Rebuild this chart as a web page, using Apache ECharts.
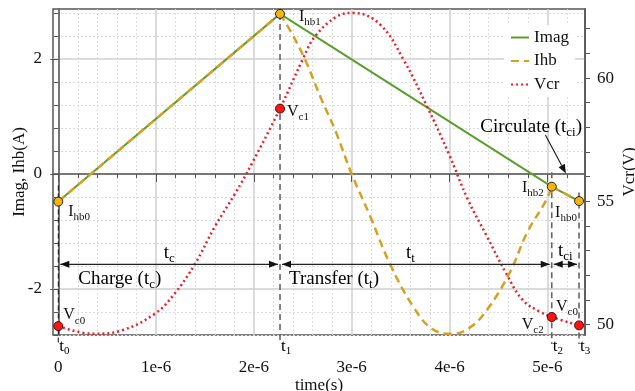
<!DOCTYPE html>
<html>
<head>
<meta charset="utf-8">
<script src="https://cdn.jsdelivr.net/npm/echarts@6/dist/echarts.min.js"></script>
<style>
  html, body { margin: 0; padding: 0; background: #fff; }
  #chart { width: 635px; height: 391px; }
</style>
</head>
<body>
<div id="chart"></div>
<script>
// time values are in microseconds, the axis prints them as "Ne-6"
const imagData = [[0, -0.48], [2.267, 2.785], [5.045, -0.22], [5.324, -0.47]];
const ihbCharge = [[0, -0.48], [2.267, 2.785]];
const ihbTransfer = [
  [2.267, 2.785], [2.386, 2.45], [2.523, 1.99], [2.693, 1.29], [2.829, 0.77],
  [3.0, 0.0], [3.19, -0.74], [3.39, -1.56], [3.63, -2.31], [3.82, -2.69],
  [4.02, -2.78], [4.2, -2.68], [4.38, -2.37], [4.62, -1.7], [4.79, -1.03],
  [4.99, -0.45], [5.045, -0.22]
];
const ihbCirculate = [[5.045, -0.22], [5.324, -0.47]];
const vcrData = [
  [0, 49.94], [0.36, 49.63], [0.65, 49.77], [0.99, 50.45], [1.19, 51.26],
  [1.4, 52.48], [1.6, 53.97], [1.81, 55.33], [1.98, 56.54], [2.267, 58.76],
  [2.505, 60.81], [2.625, 61.69], [2.85, 62.5], [3.02, 62.64], [3.29, 62.17],
  [3.53, 60.74], [3.77, 58.85], [3.99, 56.95], [4.19, 55.05], [4.38, 53.6],
  [4.58, 52.07], [4.75, 50.99], [4.93, 50.51], [5.045, 50.31], [5.324, 49.97]
];
const ihbPoints = [[0, -0.48], [2.267, 2.785], [5.045, -0.22], [5.324, -0.47]];
const ihbPointNames = ['hb0', 'hb1', 'hb2', 'hb0'];
const vcPoints = [[0, 49.94], [2.267, 58.76], [5.045, 50.31], [5.324, 49.97]];
const vcPointNames = ['c0', 'c1', 'c2', 'c0'];
const phaseTimes = [0, 2.267, 5.045, 5.324];
const phaseNames = ['0', '1', '2', '3'];

const xMajorTicks = [0, 1, 2, 3, 4, 5];
const xMinorTicks = [0.2, 0.4, 0.6, 0.8, 1.2, 1.4, 1.6, 1.8, 2.2, 2.4, 2.6, 2.8,
  3.2, 3.4, 3.6, 3.8, 4.2, 4.4, 4.6, 4.8, 5.2];
const yMajorTicks = [-2, 0, 2];
const yMinorTicks = [-2.8, -2.4, -1.6, -1.2, -0.8, -0.4, 0.4, 0.8, 1.2, 1.6, 2.4, 2.8];
const vTicks = [50, 51, 52, 53, 54, 55, 56, 57, 58, 59, 60, 61, 62];
const vLabels = [50, 55, 60];

const FONT = 'Liberation Serif';
const C_IMAG = '#5c9e2e';
const C_IHB = '#d6a021';
const C_VCR = '#e8202a';
const AXIS_COLOR = '#555';

const X_MIN = -0.054, X_MAX = 5.385;
const Y_MIN = -2.8, Y_MAX = 2.87;
const V_MIN = 49.58, V_MAX = 62.8;

const chart = echarts.init(document.getElementById('chart'));

const richPt = {
  m: { fontSize: 16, fontFamily: FONT, color: '#111', verticalAlign: 'middle', lineHeight: 22 },
  s: { fontSize: 11, fontFamily: FONT, color: '#111', verticalAlign: 'bottom', lineHeight: 14 }
};
const richAnno = {
  m: { fontSize: 19, fontFamily: FONT, color: '#111', verticalAlign: 'middle', lineHeight: 24 },
  s: { fontSize: 13, fontFamily: FONT, color: '#111', verticalAlign: 'bottom', lineHeight: 15 }
};

// label placement of the marked points
const ihbLabelCfg = [
  { position: 'right', distance: 5, offset: [0, 10] },
  { position: 'right', distance: 14, offset: [0, 3] },
  { position: 'left', distance: 3, offset: [0, 1] },
  { position: 'bottom', distance: 0, offset: [-13, -4] }
];
const vcLabelCfg = [
  { position: 'right', distance: 0, offset: [0, -11] },
  { position: 'right', distance: 2, offset: [0, 3] },
  { position: 'left', distance: 3, offset: [0, 8] },
  { position: 'top', distance: 0, offset: [-12, -3] }
];

const minorSplit = { show: true, lineStyle: { color: '#dcdcdc', type: [2, 2], width: 1 } };
const majorSplit = { show: true, lineStyle: { color: '#cfcfcf', width: 1.5 } };
const nameStyle = { fontFamily: FONT, fontSize: 17, color: '#111' };

const option = {
  animation: false,
  textStyle: { fontFamily: FONT, color: '#111' },
  grid: {
    left: 53, right: 50, top: 9, bottom: 56,
    outerBoundsMode: 'none', containLabel: false,
    show: true, borderColor: AXIS_COLOR, borderWidth: 1.5
  },
  legend: {
    data: ['Imag', 'Ihb', 'Vcr'],
    orient: 'vertical',
    left: 504, top: 25,
    padding: [4, 6],
    backgroundColor: '#fff',
    itemWidth: 18, itemHeight: 14, itemGap: 6.5,
    itemStyle: { opacity: 0 },
    textStyle: { fontFamily: FONT, fontSize: 17, color: '#111' }
  },
  xAxis: [
    {
      type: 'value', min: X_MIN, max: X_MAX, splitNumber: 5,
      name: 'time(s)', nameLocation: 'middle', nameGap: 42, nameMoveOverlap: false,
      nameTextStyle: nameStyle,
      axisLine: { show: true, lineStyle: { color: AXIS_COLOR, width: 1.5 } },
      axisTick: { show: true, customValues: xMajorTicks, length: 8, lineStyle: { color: AXIS_COLOR } },
      axisLabel: {
        customValues: xMajorTicks, margin: 24, fontSize: 17, color: '#111',
        formatter: (v) => (v === 0 ? '0' : v + 'e-6')
      },
      splitLine: majorSplit
    },
    {
      type: 'value', min: X_MIN, max: X_MAX, position: 'bottom', splitNumber: 27,
      axisLine: { show: false },
      axisTick: { show: true, customValues: xMinorTicks, length: 4, lineStyle: { color: AXIS_COLOR } },
      axisLabel: { show: false },
      splitLine: minorSplit
    }
  ],
  yAxis: [
    {
      type: 'value', min: Y_MIN, max: Y_MAX, position: 'left', splitNumber: 3,
      name: 'Imag, Ihb(A)', nameLocation: 'middle', nameGap: 25, nameMoveOverlap: false,
      nameTextStyle: nameStyle,
      axisLine: { show: true, lineStyle: { color: AXIS_COLOR, width: 1.5 } },
      axisTick: { show: true, customValues: yMajorTicks, length: 8, lineStyle: { color: AXIS_COLOR } },
      axisLabel: { customValues: yMajorTicks, margin: 11, fontSize: 17, color: '#111' },
      splitLine: majorSplit
    },
    {
      type: 'value', min: Y_MIN, max: Y_MAX, position: 'left', interval: 0.4,
      axisLine: { show: false },
      axisTick: { show: true, customValues: yMinorTicks, length: 5, lineStyle: { color: AXIS_COLOR } },
      axisLabel: { show: false },
      splitLine: minorSplit
    },
    {
      type: 'value', min: V_MIN, max: V_MAX, position: 'right',
      name: 'Vcr(V)', nameLocation: 'middle', nameGap: 36, nameMoveOverlap: false,
      nameTextStyle: nameStyle,
      axisLine: { show: true, lineStyle: { color: AXIS_COLOR, width: 1.5 } },
      axisTick: { show: true, customValues: vTicks, length: 5, lineStyle: { color: AXIS_COLOR } },
      axisLabel: { customValues: vLabels, margin: 12, fontSize: 17, color: '#111' },
      splitLine: { show: false }
    }
  ],
  series: [
    {
      name: 'Imag', type: 'line', data: imagData, symbol: 'none',
      lineStyle: { color: C_IMAG, width: 2 }, itemStyle: { color: C_IMAG }, z: 2
    },
    {
      name: 'Ihb', type: 'line', data: ihbCharge, symbol: 'none',
      lineStyle: { color: C_IHB, width: 2.5, type: [8, 5] }, itemStyle: { color: C_IHB }, z: 3
    },
    {
      name: 'Ihb', type: 'line', data: ihbTransfer, symbol: 'none', smooth: 0.4,
      lineStyle: { color: C_IHB, width: 2.5, type: [8, 5] }, itemStyle: { color: C_IHB }, z: 3
    },
    {
      name: 'Ihb', type: 'line', data: ihbCirculate, symbol: 'none',
      lineStyle: { color: C_IHB, width: 2.5, type: [8, 5] }, itemStyle: { color: C_IHB }, z: 3
    },
    {
      name: 'Vcr', type: 'line', yAxisIndex: 2, data: vcrData, symbol: 'none', smooth: 0.4,
      lineStyle: { color: C_VCR, width: 2.5, type: [2, 3] }, itemStyle: { color: C_VCR }, z: 2
    },
    {
      type: 'scatter', symbolSize: 9, z: 6,
      itemStyle: { color: '#f6b40a', borderColor: '#222', borderWidth: 1, opacity: 1 },
      label: { show: true, rich: richPt },
      data: ihbPoints.map((p, i) => ({
        value: p,
        label: Object.assign({ formatter: '{m|I}{s|' + ihbPointNames[i] + '}' }, ihbLabelCfg[i])
      }))
    },
    {
      type: 'scatter', yAxisIndex: 2, symbolSize: 9, z: 6,
      itemStyle: { color: '#ff1414', borderColor: '#4a0b0b', borderWidth: 1, opacity: 1 },
      label: { show: true, rich: richPt },
      data: vcPoints.map((p, i) => ({
        value: p,
        label: Object.assign({ formatter: '{m|V}{s|' + vcPointNames[i] + '}' }, vcLabelCfg[i])
      }))
    }
  ]
};

chart.setOption(option);

// phase markers, arrows and texts, placed through the axes
const ARROW_LEVEL = -1.57;
const dashTops = [-0.2, 2.785, 0.03, -0.32];

function toPx(t, i) {
  return chart.convertToPixel({ xAxisIndex: 0, yAxisIndex: 0 }, [t, i]);
}

function head(x, y, dir) {
  // filled triangle, tip at (x, y), dir = -1 points left, 1 points right
  return {
    type: 'polygon', z: 5,
    shape: { points: [[x, y], [x - dir * 9, y - 3.5], [x - dir * 9, y + 3.5]] },
    style: { fill: '#111' }
  };
}

function doubleArrow(x1, x2, y) {
  return [
    { type: 'line', z: 5, shape: { x1: x1, y1: y, x2: x2, y2: y }, style: { stroke: '#222', lineWidth: 1.2 } },
    head(x1, y, -1),
    head(x2, y, 1)
  ];
}

function richText(x, y, text, align) {
  return {
    type: 'text', z: 5, x: x, y: y,
    style: { text: text, rich: richAnno, align: align, verticalAlign: 'middle' }
  };
}

function buildAnnotations() {
  const els = [];
  const axisBottom = toPx(0, Y_MIN)[1];
  const arrowY = toPx(0, ARROW_LEVEL)[1];
  const xs = phaseTimes.map((t) => toPx(t, 0)[0]);

  phaseTimes.forEach((t, i) => {
    const top = toPx(t, dashTops[i])[1];
    els.push({
      type: 'line', z: 4,
      shape: { x1: xs[i], y1: top, x2: xs[i], y2: axisBottom + 9 },
      style: { stroke: i === 0 ? '#111' : '#666', lineWidth: i === 0 ? 1 : 1.6, lineDash: i === 0 ? [5, 3] : [6, 4] }
    });
    els.push({
      type: 'text', z: 5, x: xs[i] + 1, y: axisBottom + 12,
      style: {
        text: '{m|t}{s|' + phaseNames[i] + '}', align: 'left', verticalAlign: 'middle',
        rich: {
          m: { fontSize: 17, fontFamily: FONT, color: '#111', verticalAlign: 'middle', lineHeight: 20 },
          s: { fontSize: 11, fontFamily: FONT, color: '#111', verticalAlign: 'bottom', lineHeight: 13 }
        }
      }
    });
  });

  els.push(...doubleArrow(xs[0] + 2, xs[1] - 2, arrowY));
  els.push(...doubleArrow(xs[1] + 2, xs[2] - 2, arrowY));
  els.push(...doubleArrow(xs[2] + 2, xs[3] - 2, arrowY));

  els.push(richText((xs[0] + xs[1]) / 2, arrowY - 11, '{m|t}{s|c}', 'center'));
  els.push(richText(xs[0] + 20, arrowY + 15, '{m|Charge (t}{s|c}{m|)}', 'left'));
  els.push(richText(toPx(3.6, 0)[0], arrowY - 11, '{m|t}{s|t}', 'center'));
  els.push(richText(xs[1] + 9, arrowY + 15, '{m|Transfer (t}{s|t}{m|)}', 'left'));
  els.push(richText((xs[2] + xs[3]) / 2, arrowY - 13, '{m|t}{s|ci}', 'center'));
  els.push(richText(xs[3] + 3, toPx(0, 0.82)[1], '{m|Circulate (t}{s|ci}{m|)}', 'right'));

  // pointer from "Circulate" to the circulate interval
  const p0 = toPx(4.98, 0.68);
  const p1 = toPx(5.19, 0.01);
  const ang = Math.atan2(p1[1] - p0[1], p1[0] - p0[0]);
  const bx = p1[0] - 9 * Math.cos(ang), by = p1[1] - 9 * Math.sin(ang);
  const nx = -Math.sin(ang) * 3.5, ny = Math.cos(ang) * 3.5;
  els.push({ type: 'line', z: 5, shape: { x1: p0[0], y1: p0[1], x2: bx, y2: by }, style: { stroke: '#222', lineWidth: 1.2 } });
  els.push({ type: 'polygon', z: 5, shape: { points: [[p1[0], p1[1]], [bx + nx, by + ny], [bx - nx, by - ny]] }, style: { fill: '#111' } });

  return els;
}

chart.setOption({ graphic: { elements: buildAnnotations() } });

window.addEventListener('resize', () => chart.resize());
</script>
</body>
</html>
